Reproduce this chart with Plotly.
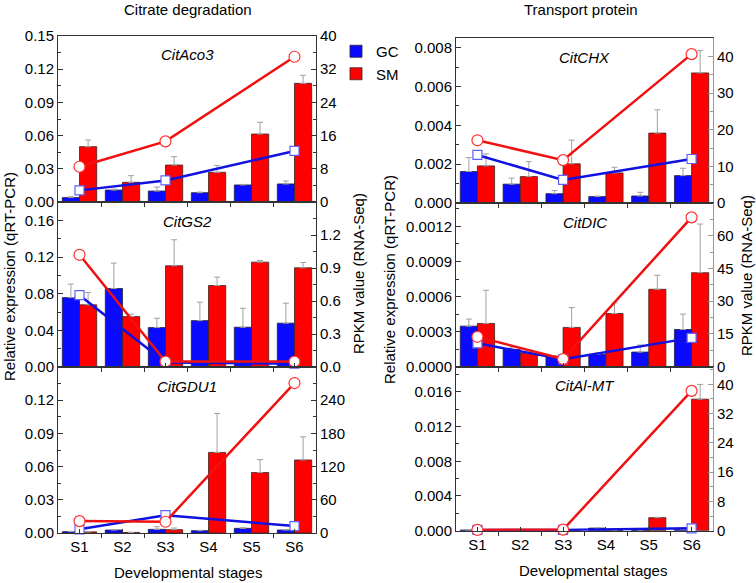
import plotly.graph_objects as go

W, H = 756, 583

stages = ["S1", "S2", "S3", "S4", "S5", "S6"]
stage_x = [1, 2, 3, 4, 5, 6]
rna_x = [1, 3, 6]

genes = ["CitAco3", "CitGS2", "CitGDU1", "CitCHX", "CitDIC", "CitAl-MT"]

# qRT-PCR relative expression (bars) and SD (upper error bars)
aco3_gc = [0.0040, 0.0108, 0.0099, 0.0084, 0.0154, 0.0163]
aco3_gc_sd = [0.0008, 0.0008, 0.0036, 0.0006, 0.0005, 0.0027]
aco3_sm = [0.0500, 0.0178, 0.0334, 0.0268, 0.0614, 0.1072]
aco3_sm_sd = [0.0060, 0.0060, 0.0076, 0.0062, 0.0106, 0.0073]
aco3_rna_gc = [2.8, 5.2, 12.3]
aco3_rna_sm = [8.5, 14.6, 35.0]

gs2_gc = [0.0757, 0.0856, 0.0430, 0.0506, 0.0434, 0.0478]
gs2_gc_sd = [0.0147, 0.0277, 0.0102, 0.0201, 0.0207, 0.0218]
gs2_sm = [0.0678, 0.0550, 0.1104, 0.0889, 0.1144, 0.1082]
gs2_sm_sd = [0.0134, 0.0026, 0.0284, 0.0091, 0.0018, 0.0058]
gs2_rna_gc = [0.653, 0.04, 0.03]
gs2_rna_sm = [1.02, 0.049, 0.049]

gdu1_gc = [0.0012, 0.0027, 0.0033, 0.0021, 0.0042, 0.0027]
gdu1_gc_sd = [0.0003, 0.0003, 0.0024, 0.0003, 0.0006, 0.0004]
gdu1_sm = [0.0010, 0.0005, 0.0030, 0.0728, 0.0546, 0.0660]
gdu1_sm_sd = [0.0002, 0.0001, 0.0015, 0.0352, 0.0117, 0.0209]
gdu1_rna_gc = [6.6, 32.2, 12.5]
gdu1_rna_sm = [21.5, 20.3, 271.0]

chx_gc = [0.00162, 0.00097, 0.00048, 0.00033, 0.00036, 0.00141]
chx_gc_sd = [0.00072, 0.00031, 0.00016, 0.00003, 0.00019, 0.00038]
chx_sm = [0.00191, 0.00136, 0.00202, 0.00155, 0.00360, 0.00670]
chx_sm_sd = [0.00062, 0.00077, 0.00122, 0.00029, 0.00120, 0.00116]
chx_rna_gc = [13.1, 6.3, 12.0]
chx_rna_sm = [17.1, 11.7, 40.6]

dic_gc = [0.000347, 0.000148, 0.000085, 0.000106, 0.000125, 0.000318]
dic_gc_sd = [0.000060, 0.000020, 0.000010, 0.000010, 0.000060, 0.000132]
dic_sm = [0.000370, 0.000114, 0.000336, 0.000455, 0.000662, 0.000804]
dic_sm_sd = [0.000284, 0.000010, 0.000170, 0.000090, 0.000120, 0.000416]
dic_rna_gc = [10.7, 3.4, 13.2]
dic_rna_sm = [13.7, 3.5, 68.4]

almt_gc = [0.00008, 0.00005, 0.00005, 0.00030, 0.00005, 0.00015]
almt_gc_sd = [0.00002, 0.00001, 0.00001, 0.00002, 0.00001, 0.00002]
almt_sm = [0.00008, 0.00010, 0.00010, 0.00003, 0.00150, 0.01516]
almt_sm_sd = [0.00002, 0.00002, 0.00002, 0.00001, 0.00005, 0.00170]
almt_rna_gc = [0.2, 0.2, 0.65]
almt_rna_sm = [0.2, 0.3, 38.2]

# axis ranges and tick values
left_ranges = [[0, 0.15], [0, 0.18], [0, 0.15], [0, 0.0085], [0, 0.0014], [0, 0.0189]]
right_ranges = [[0, 40], [0, 1.5], [0, 300], [0, 45], [0, 75], [0, 44.8]]
left_ticks = [
    [0, 0.03, 0.06, 0.09, 0.12, 0.15],
    [0, 0.04, 0.08, 0.12, 0.16],
    [0, 0.03, 0.06, 0.09, 0.12],
    [0, 0.002, 0.004, 0.006, 0.008],
    [0, 0.0003, 0.0006, 0.0009, 0.0012],
    [0, 0.004, 0.008, 0.012, 0.016],
]
left_fmt = [".2f", ".2f", ".2f", ".3f", ".4f", ".3f"]
right_ticks = [
    [0, 8, 16, 24, 32, 40],
    [0, 0.3, 0.6, 0.9, 1.2],
    [0, 60, 120, 180, 240],
    [0, 10, 20, 30, 40],
    [0, 15, 30, 45, 60],
    [0, 8, 16, 24, 32, 40],
]
right_fmt = ["d", ".1f", "d", "d", "d", "d"]

panels = [
    (aco3_gc, aco3_gc_sd, aco3_sm, aco3_sm_sd, aco3_rna_gc, aco3_rna_sm),
    (gs2_gc, gs2_gc_sd, gs2_sm, gs2_sm_sd, gs2_rna_gc, gs2_rna_sm),
    (gdu1_gc, gdu1_gc_sd, gdu1_sm, gdu1_sm_sd, gdu1_rna_gc, gdu1_rna_sm),
    (chx_gc, chx_gc_sd, chx_sm, chx_sm_sd, chx_rna_gc, chx_rna_sm),
    (dic_gc, dic_gc_sd, dic_sm, dic_sm_sd, dic_rna_gc, dic_rna_sm),
    (almt_gc, almt_gc_sd, almt_sm, almt_sm_sd, almt_rna_gc, almt_rna_sm),
]

BLUE = "#0a0aff"
RED = "#ff0000"
FONT = "Liberation Sans, Arial, sans-serif"

# pixel geometry
col_x = [(58, 316), (456, 713)]
col_y = [[36, 202, 367, 533], [38, 203, 366.7, 530.7]]


def px_x(p):
    return p / W


def px_y(p):
    return 1 - p / H


fig = go.Figure()
layout = dict(
    width=W, height=H, autosize=False,
    margin=dict(l=0, r=0, t=0, b=0, pad=0, autoexpand=False),
    paper_bgcolor="white", plot_bgcolor="white",
    barmode="group", bargap=0.2, bargroupgap=0,
    font=dict(family=FONT, size=15, color="black"),
    showlegend=True,
    legend=dict(x=px_x(336), y=px_y(35), xanchor="left", yanchor="top",
                font=dict(size=15), bgcolor="rgba(0,0,0,0)",
                itemwidth=30, tracegroupgap=0),
)
annotations = []

for k, (gc, gc_sd, sm, sm_sd, rgc, rsm) in enumerate(panels):
    col = k // 3
    row = k % 3
    xn = "" if k == 0 else str(k + 1)
    y1n = "" if k == 0 else str(2 * k + 1)
    y2n = str(2 * k + 2)
    xref = "x" + xn
    y1ref = "y" + y1n
    y2ref = "y" + y2n

    fig.add_trace(go.Bar(
        x=stage_x, y=gc, name="GC", marker=dict(color=BLUE, line=dict(color="#202040", width=0.8)),
        error_y=dict(type="data", symmetric=False, array=gc_sd, arrayminus=[0] * 6,
                     color="#a0a0a0", thickness=1, width=3),
        xaxis=xref, yaxis=y1ref, showlegend=(k == 0), legendgroup="GC",
    ))
    fig.add_trace(go.Bar(
        x=stage_x, y=sm, name="SM", marker=dict(color=RED, line=dict(color="#402020", width=0.8)),
        error_y=dict(type="data", symmetric=False, array=sm_sd, arrayminus=[0] * 6,
                     color="#a0a0a0", thickness=1, width=3),
        xaxis=xref, yaxis=y1ref, showlegend=(k == 0), legendgroup="SM",
    ))
    fig.add_trace(go.Scatter(
        x=rna_x, y=rgc, mode="lines+markers", showlegend=False,
        line=dict(color="#1010e0", width=2.5),
        marker=dict(symbol="square", size=9, color="white", line=dict(color="#6060ff", width=1.2)),
        xaxis=xref, yaxis=y2ref, cliponaxis=False,
    ))
    fig.add_trace(go.Scatter(
        x=rna_x, y=rsm, mode="lines+markers", showlegend=False,
        line=dict(color="#f01010", width=2.5),
        marker=dict(symbol="circle", size=11, color="white", line=dict(color="#ff3030", width=1.2)),
        xaxis=xref, yaxis=y2ref, cliponaxis=False,
    ))

    top = col_y[col][row]
    bot = col_y[col][row + 1]
    xd = [px_x(col_x[col][0]), px_x(col_x[col][1])]
    yd = [px_y(bot), px_y(top)]
    axis_col = "#333333"
    right_col = "#333333" if col == 0 else "#999999"

    layout["xaxis" + xn] = dict(
        domain=xd, anchor=y1ref, range=[0.5, 6.5], automargin=False,
        tickmode="array", tickvals=stage_x, ticktext=stages,
        showticklabels=(row == 2), ticks="inside", ticklen=4, tickcolor=axis_col,
        minor=dict(tickmode="array", tickvals=[0.5, 1.5, 2.5, 3.5, 4.5, 5.5, 6.5],
                   ticks="outside", ticklen=4, tickcolor=axis_col),
        showline=True, linecolor=axis_col, linewidth=1, mirror=True,
        showgrid=False, zeroline=False, fixedrange=True,
        tickfont=dict(size=15),
    )
    lt = left_ticks[k]
    layout["yaxis" + y1n] = dict(
        domain=yd, anchor=xref, range=left_ranges[k], automargin=False,
        tickmode="array", tickvals=lt, ticktext=[format(v, left_fmt[k]) for v in lt],
        ticks="inside", ticklen=5, tickcolor=axis_col,
        minor=dict(dtick=(lt[1] - lt[0]) / 2, tick0=0, ticks="inside", ticklen=3, tickcolor=axis_col),
        showline=True, linecolor=axis_col, linewidth=1,
        showgrid=False, zeroline=False, tickfont=dict(size=15),
    )
    rt = right_ticks[k]
    layout["yaxis" + y2n] = dict(
        domain=yd, anchor=xref, overlaying=y1ref, side="right", range=right_ranges[k],
        automargin=False,
        tickmode="array", tickvals=rt, ticktext=[format(v, right_fmt[k]) for v in rt],
        ticks="inside", ticklen=5, tickcolor=right_col,
        minor=dict(dtick=(rt[1] - rt[0]) / 2, tick0=0, ticks="inside", ticklen=3, tickcolor=right_col),
        showline=True, linecolor=right_col, linewidth=1,
        showgrid=False, zeroline=False, tickfont=dict(size=15),
    )
    annotations.append(dict(
        text="<i>" + genes[k] + "</i>", x=px_x((col_x[col][0] + col_x[col][1]) / 2),
        y=px_y(top + 19), xref="paper", yref="paper", showarrow=False,
        font=dict(size=15), xanchor="center", yanchor="middle",
    ))

# column titles, axis titles
annotations += [
    dict(text="Citrate degradation", x=px_x(188), y=px_y(9)),
    dict(text="Transport protein", x=px_x(581), y=px_y(10)),
    dict(text="Developmental stages", x=px_x(188), y=px_y(572)),
    dict(text="Developmental stages", x=px_x(593), y=px_y(570)),
    dict(text="Relative expression (qRT-PCR)", x=px_x(9), y=px_y(277), textangle=-90),
    dict(text="RPKM value (RNA-Seq)", x=px_x(358), y=px_y(274), textangle=-90),
    dict(text="Relative expression (qRT-PCR)", x=px_x(390), y=px_y(280), textangle=-90),
    dict(text="RPKM value (RNA-Seq)", x=px_x(746), y=px_y(276), textangle=-90),
]
for a in annotations[6:]:
    a.update(xref="paper", yref="paper", showarrow=False, font=dict(size=15),
             xanchor="center", yanchor="middle")

layout["annotations"] = annotations
fig.update_layout(**layout)
fig.write_html(
    "out.html",
    config={"displayModeBar": False},
    post_script="document.body.style.margin='0';document.body.style.padding='0';"
                "document.documentElement.style.overflow='hidden';",
)
